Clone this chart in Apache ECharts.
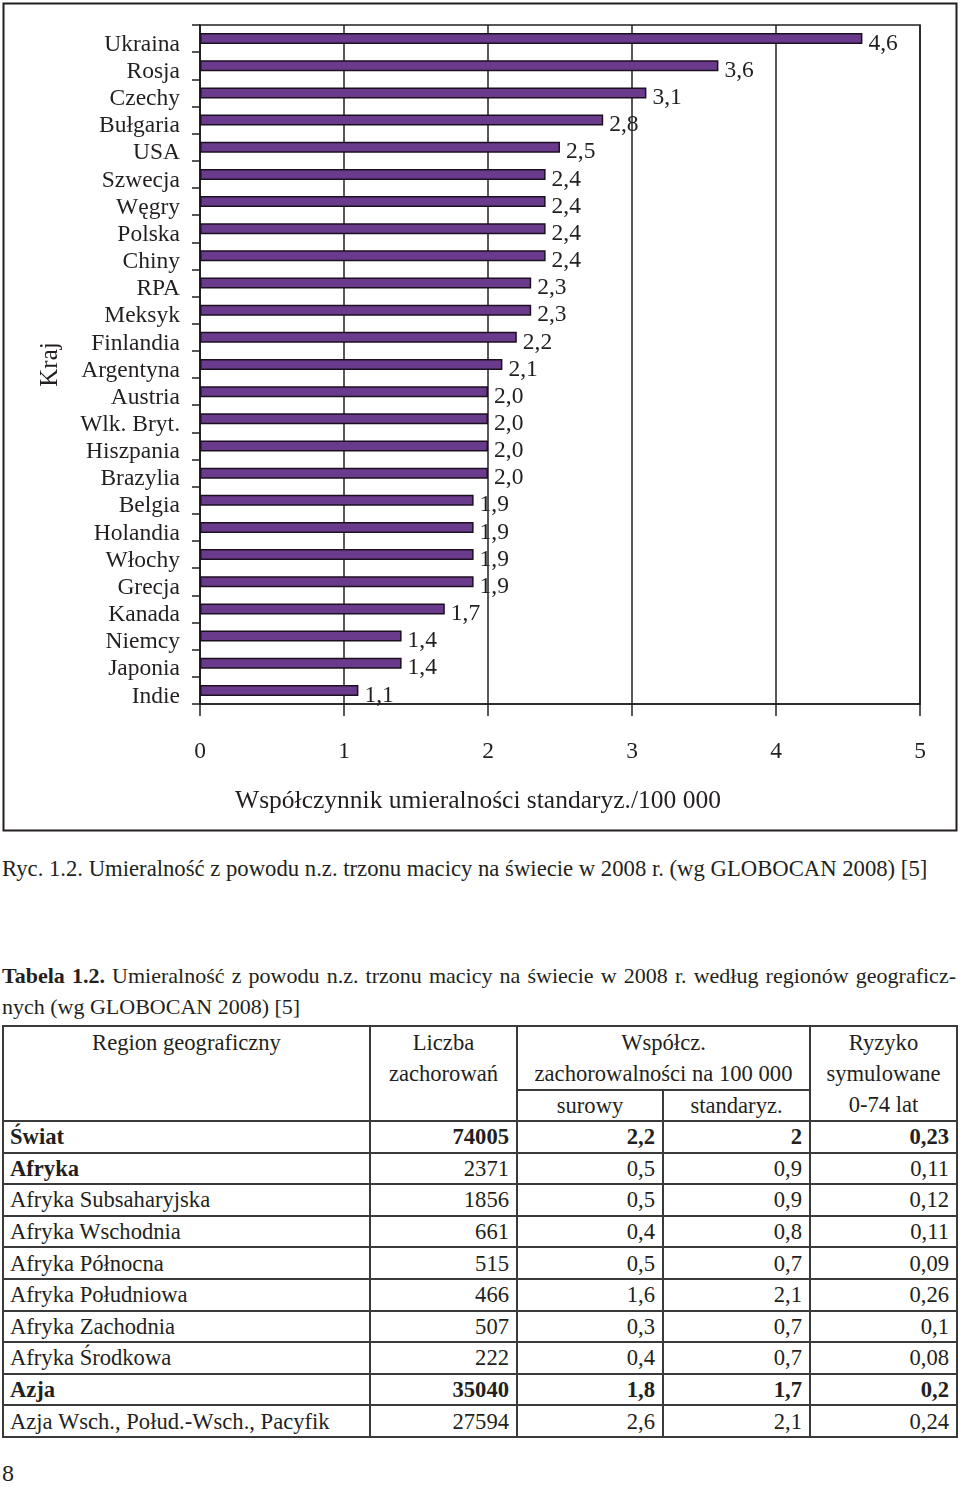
<!DOCTYPE html>
<html>
<head>
<meta charset="utf-8">
<script src="https://cdn.jsdelivr.net/npm/echarts@6/dist/echarts.min.js"></script>
<style>
  html, body { margin: 0; padding: 0; background: #fff; }
  body { width: 960px; height: 1487px; position: relative; overflow: hidden;
         font-family: "Liberation Serif", "DejaVu Serif", serif; color: #231f20; }
  #chart { position: absolute; left: 0; top: 0; width: 960px; height: 840px; }
  .cap { position: absolute; left: 2px; font-size: 22.7px; white-space: nowrap; }
  #title { position: absolute; left: 2px; top: 960px; width: 954px; font-size: 22px; line-height: 31px; }
  #title .l1 { text-align: justify; text-align-last: justify; white-space: nowrap; display:block; }
  table { position: absolute; left: 2px; top: 1025px; width: 954px; border-collapse: collapse;
          table-layout: fixed; font-size: 22.6px; }
  td { border: 2px solid #3a3a3a; padding: 0 7px 0 6px; white-space: nowrap; overflow: hidden; }
  thead td { text-align: center; vertical-align: top; line-height: 31px; padding: 0; }
  tbody td { text-align: right; vertical-align: middle; height: 29.6px; line-height: 29px; }
  tbody td:first-child { text-align: left; }
  .b { font-weight: bold; }
  #pg { position: absolute; left: 2px; top: 1460px; font-size: 24px; }
</style>
</head>
<body>
<div id="chart"></div>
<div class="cap" id="cap1" style="top:856px;"></div>
<div id="title"></div>
<table id="tbl"></table>
<div id="pg">8</div>
<script>
// ---- chart data ----
const countries = ['Ukraina','Rosja','Czechy','Bułgaria','USA','Szwecja','Węgry','Polska','Chiny','RPA','Meksyk','Finlandia','Argentyna','Austria','Wlk. Bryt.','Hiszpania','Brazylia','Belgia','Holandia','Włochy','Grecja','Kanada','Niemcy','Japonia','Indie'];
const mortality = [4.6,3.6,3.1,2.8,2.5,2.4,2.4,2.4,2.4,2.3,2.3,2.2,2.1,2.0,2.0,2.0,2.0,1.9,1.9,1.9,1.9,1.7,1.4,1.4,1.1];
const xTicks = [0,1,2,3,4,5];
const xAxisTitle = 'Współczynnik umieralności standaryz./100 000';
const yAxisTitle = 'Kraj';
const figCaption = 'Ryc. 1.2. Umieralność z powodu n.z. trzonu macicy na świecie w 2008 r. (wg GLOBOCAN 2008) [5]';

// ---- table data ----
const regions = ['Świat','Afryka','Afryka Subsaharyjska','Afryka Wschodnia','Afryka Północna','Afryka Południowa','Afryka Zachodnia','Afryka Środkowa','Azja','Azja Wsch., Połud.-Wsch., Pacyfik'];
const cases = ['74005','2371','1856','661','515','466','507','222','35040','27594'];
const crudeRate = ['2,2','0,5','0,5','0,4','0,5','1,6','0,3','0,4','1,8','2,6'];
const stdRate = ['2','0,9','0,9','0,8','0,7','2,1','0,7','0,7','1,7','2,1'];
const cumRisk = ['0,23','0,11','0,12','0,11','0,09','0,26','0,1','0,08','0,2','0,24'];
const tableTitle1 = 'Tabela 1.2.';
const tableTitle2 = 'Umieralność z powodu n.z. trzonu macicy na świecie w 2008 r. według regionów geograficz-';
const tableTitle3 = 'nych (wg GLOBOCAN 2008) [5]';

const FONT = '"Liberation Serif", "DejaVu Serif", serif';
const INK = '#231f20';

const chart = echarts.init(document.getElementById('chart'), null, {renderer: 'canvas'});
chart.setOption({
  animation: false,
  textStyle: { fontFamily: FONT, color: INK },
  graphic: [{
    type: 'rect', left: 1, top: 1, shape: { width: 953, height: 827 },
    style: { fill: 'none', stroke: INK, lineWidth: 2 }, silent: true
  }],
  grid: { left: 200, top: 25, width: 720, height: 679, show: true,
          borderColor: INK, borderWidth: 1.5, backgroundColor: 'transparent' },
  xAxis: {
    type: 'value', min: xTicks[0], max: xTicks[xTicks.length - 1], interval: 1,
    name: xAxisTitle, nameLocation: 'middle', nameGap: 84,
    nameTextStyle: { fontFamily: FONT, fontSize: 25.5, color: INK, padding: [0, 164, 0, 0] },
    axisLine: { show: true, lineStyle: { color: INK, width: 1.5 } },
    axisTick: { show: true, length: 12, lineStyle: { color: INK, width: 1.5 } },
    axisLabel: { margin: 36, fontFamily: FONT, fontSize: 23.5, color: INK },
    splitLine: { show: true, lineStyle: { color: INK, width: 1.5 } }
  },
  yAxis: {
    type: 'category', inverse: true, data: countries,
    name: yAxisTitle, nameLocation: 'middle', nameGap: 137, nameRotate: 90,
    nameTextStyle: { fontFamily: FONT, fontSize: 25, color: INK },
    axisLine: { show: true, lineStyle: { color: INK, width: 1.5 } },
    axisTick: { show: true, length: 8, interval: 0, lineStyle: { color: INK, width: 1.5 } },
    axisLabel: {
      margin: 20, interval: 0, fontFamily: FONT, fontSize: 23.5, color: INK,
      formatter: v => '{c|' + v + '}',
      rich: { c: { fontFamily: FONT, fontSize: 23.5, color: INK, padding: [12, 0, 0, 0] } }
    },
    splitLine: { show: false }
  },
  series: [{
    type: 'bar', data: mortality, barWidth: 11,
    itemStyle: { color: '#6a3a8c', borderColor: '#1c1020', borderWidth: 1.5 },
    label: {
      show: true, position: 'right', distance: 6, offset: [0, 5],
      fontFamily: FONT, fontSize: 23.5, color: INK,
      formatter: p => p.value.toFixed(1).replace('.', ',')
    }
  }]
});

// caption + title
document.getElementById('cap1').textContent = figCaption;
const t = document.getElementById('title');
const l1 = document.createElement('span'); l1.className = 'l1';
const bb = document.createElement('b'); bb.textContent = tableTitle1;
l1.appendChild(bb); l1.appendChild(document.createTextNode(' ' + tableTitle2));
const l2 = document.createElement('span'); l2.style.display = 'block'; l2.textContent = tableTitle3;
t.appendChild(l1); t.appendChild(l2);

// table
const tbl = document.getElementById('tbl');
const cg = document.createElement('colgroup');
[367, 147, 146, 147, 147].forEach(w => { const c = document.createElement('col'); c.style.width = w + 'px'; cg.appendChild(c); });
tbl.appendChild(cg);
const th = document.createElement('thead');
th.innerHTML =
  '<tr style="height:30.5px"><td rowspan="3" style="line-height:31px">Region geograficzny</td><td rowspan="3">Liczba<br>zachorowań</td>' +
  '<td colspan="2" rowspan="2">Współcz.<br>zachorowalności na 100 000</td><td rowspan="3">Ryzyko<br>symulowane<br>0-74 lat</td></tr>' +
  '<tr style="height:30.5px"></tr>' +
  '<tr style="height:31px"><td style="line-height:29px">surowy</td><td style="line-height:29px">standaryz.</td></tr>';
tbl.appendChild(th);
const boldAll = new Set(['Świat', 'Azja']);
const boldName = new Set(['Afryka']);
const tb = document.createElement('tbody');
regions.forEach((r, i) => {
  const tr = document.createElement('tr');
  [r, cases[i], crudeRate[i], stdRate[i], cumRisk[i]].forEach((v, j) => {
    const td = document.createElement('td');
    td.textContent = v;
    if (boldAll.has(r) || (j === 0 && boldName.has(r))) td.className = 'b';
    tr.appendChild(td);
  });
  tb.appendChild(tr);
});
tbl.appendChild(tb);
</script>
</body>
</html>
